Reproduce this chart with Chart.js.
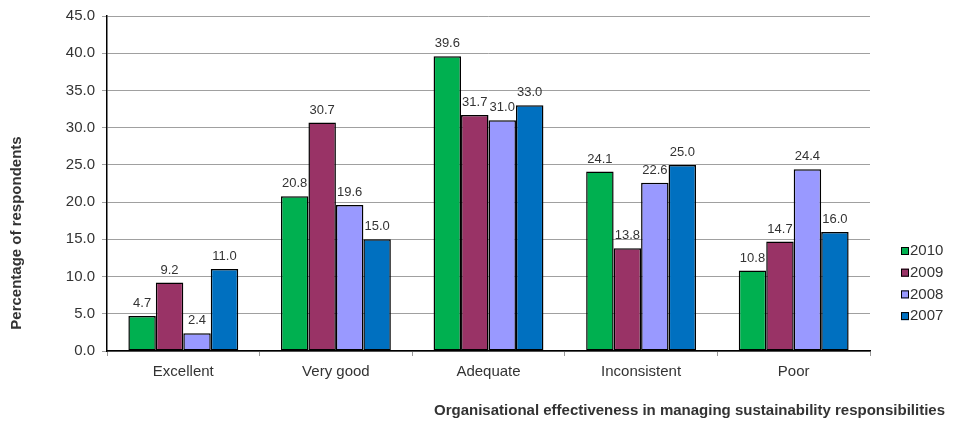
<!DOCTYPE html>
<html>
<head>
<meta charset="utf-8">
<script src="https://cdn.jsdelivr.net/npm/chart.js@4"></script>
<style>
  html, body { margin: 0; padding: 0; background: #fff; }
  #wrap { width: 962px; height: 423px; position: relative; }
</style>
</head>
<body>
<div id="wrap"><canvas id="chart"></canvas></div>
<script>
const categories = ['Excellent', 'Very good', 'Adequate', 'Inconsistent', 'Poor'];
const seriesNames = ['2010', '2009', '2008', '2007'];
const values2010 = [4.7, 20.8, 39.6, 24.1, 10.8];
const values2009 = [9.2, 30.7, 31.7, 13.8, 14.7];
const values2008 = [2.4, 19.6, 31.0, 22.6, 24.4];
const values2007 = [11.0, 15.0, 33.0, 25.0, 16.0];
const yTitle = 'Percentage of respondents';
const xTitle = 'Organisational effectiveness in managing sustainability responsibilities';

const colors = ['#00B050', '#993366', '#9999FF', '#0070C0'];
const FONT = 'Arial, "Liberation Sans", sans-serif';

// value labels above each bar
const valueLabels = {
  id: 'valueLabels',
  afterDatasetsDraw(chart) {
    const ctx = chart.ctx;
    ctx.save();
    ctx.font = '13px ' + FONT;
    ctx.fillStyle = '#333';
    ctx.textAlign = 'center';
    ctx.textBaseline = 'bottom';
    chart.data.datasets.forEach((ds, i) => {
      chart.getDatasetMeta(i).data.forEach((bar, j) => {
        ctx.fillText(ds.data[j].toFixed(1), bar.x, bar.y - 6);
      });
    });
    ctx.restore();
  }
};

// axis titles + legend placed like the original
const extras = {
  id: 'extras',
  afterDraw(chart) {
    const ctx = chart.ctx;
    ctx.save();
    ctx.fillStyle = '#333';
    ctx.font = 'bold 15px ' + FONT;
    ctx.textBaseline = 'middle';
    ctx.textAlign = 'right';
    ctx.fillText(xTitle, 945, 411);
    ctx.translate(17, 233);
    ctx.rotate(-Math.PI / 2);
    ctx.textAlign = 'center';
    ctx.fillText(yTitle, 0, 0);
    ctx.restore();

    ctx.save();
    ctx.font = '15px ' + FONT;
    ctx.textBaseline = 'middle';
    ctx.textAlign = 'left';
    chart.data.datasets.forEach((ds, i) => {
      const y = 251 + i * 21.7;
      ctx.fillStyle = ds.backgroundColor;
      ctx.fillRect(901, y - 4, 8, 8);
      ctx.strokeStyle = '#000';
      ctx.lineWidth = 1;
      ctx.strokeRect(901.5, y - 3.5, 7, 7);
      ctx.fillStyle = '#333';
      ctx.fillText(ds.label, 910, y);
    });
    ctx.restore();
  }
};

const allValues = [values2010, values2009, values2008, values2007];

new Chart(document.getElementById('chart'), {
  type: 'bar',
  data: {
    labels: categories,
    datasets: seriesNames.map((name, i) => ({
      label: name,
      data: allValues[i],
      backgroundColor: colors[i],
      borderColor: '#000',
      borderWidth: 1.5,
      borderSkipped: false,
      categoryPercentage: 0.72,
      barPercentage: 1.0
    }))
  },
  options: {
    responsive: true,
    maintainAspectRatio: false,
    animation: false,
    layout: { padding: { left: 0, right: 92, top: 15, bottom: 0 } },
    plugins: {
      legend: { display: false },
      tooltip: { enabled: false }
    },
    scales: {
      x: {
        grid: { display: true, drawOnChartArea: false, color: '#999', tickLength: 5, offset: true },
        border: { color: '#000', width: 1.5 },
        ticks: { color: '#333', font: { size: 15, family: FONT }, padding: 7 },
        afterFit(scale) { scale.height = 72; }
      },
      y: {
        min: 0,
        max: 45,
        grid: { color: '#a0a0a0', tickLength: 5 },
        border: { color: '#000', width: 1.5 },
        ticks: {
          stepSize: 5,
          color: '#333',
          font: { size: 15, family: FONT },
          padding: 7,
          callback: v => v.toFixed(1)
        },
        afterFit(scale) { scale.width = 107; }
      }
    }
  },
  plugins: [valueLabels, extras]
});
</script>
</body>
</html>
